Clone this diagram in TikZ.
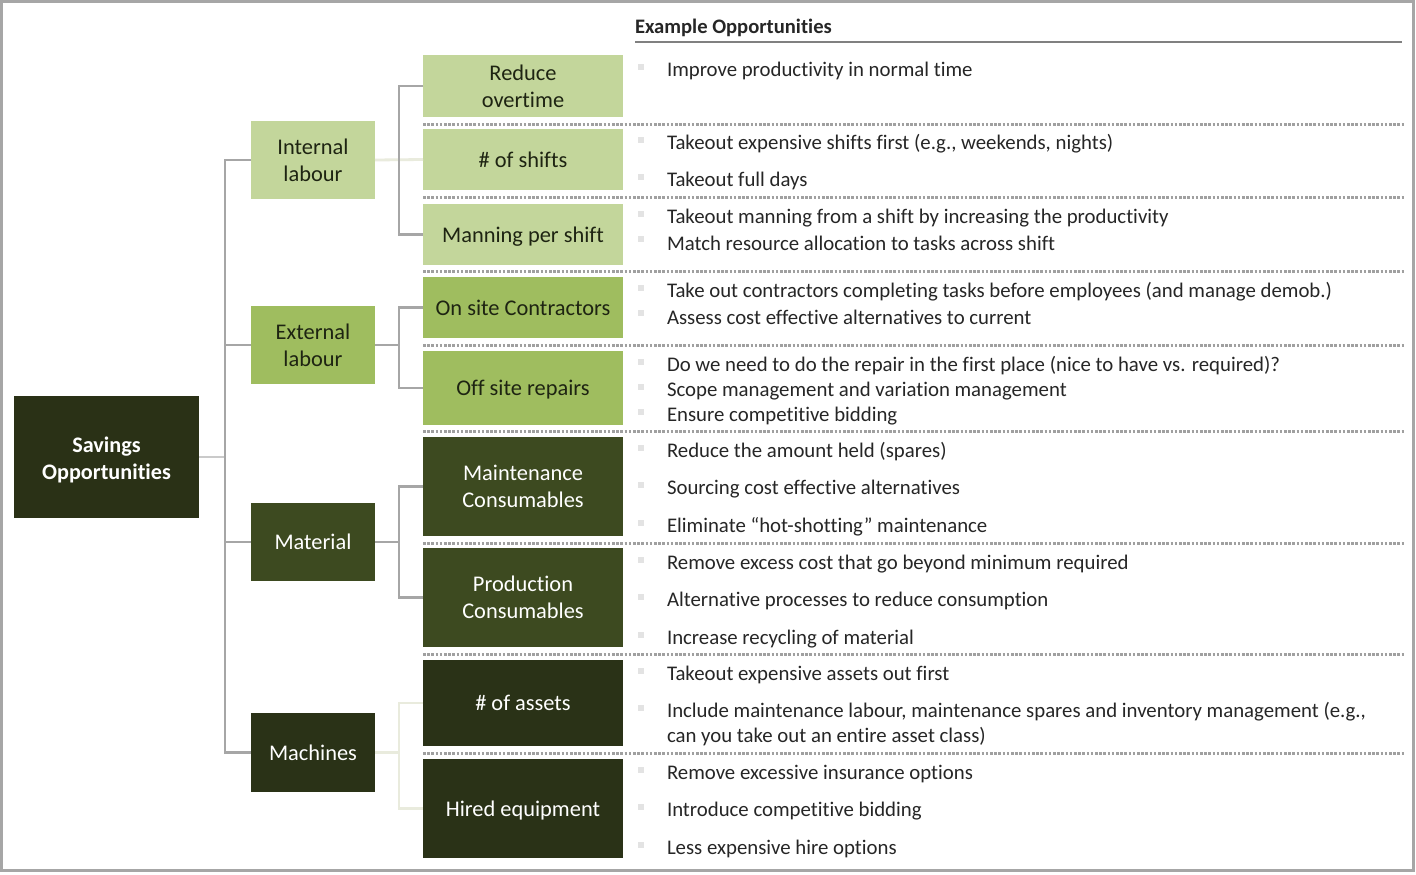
\documentclass[tikz,border=0pt]{standalone}
\usepackage{fontspec}
\setmainfont{Carlito}[Ligatures=NoCommon]
\begin{document}
\begin{tikzpicture}[x=1pt,y=-1pt,
  every node/.style={inner sep=0pt,outer sep=0pt},
  conn/.style={draw=cgray,line width=2.8pt},
  connlight/.style={draw=clight,line width=2.8pt},
  sep/.style={draw=sepgray,line width=3pt,dash pattern=on 2.6pt off 1.6pt},
  box/.style={minimum width=#1,align=center,font=\fontsize{22.4}{27}\selectfont},
  one/.style={text height=15pt,text depth=0pt},
  bl/.style={fill=lgreen,text=ltext},
  bm/.style={fill=mgreen,text=ltext},
  bd/.style={fill=dgreen,text=white},
  bk/.style={fill=kgreen,text=white},
  txt/.style={anchor=west,text=bodytext,font=\fontsize{20.8}{25}\selectfont},
  bul/.style={fill=bulgray,minimum size=6pt}
]
\definecolor{cgray}{HTML}{A6A6A6}
\definecolor{clight}{HTML}{E9EBDD}
\definecolor{sepgray}{HTML}{A0A0A0}
\definecolor{lgreen}{HTML}{C3D69B}
\definecolor{mgreen}{HTML}{9FBD5F}
\definecolor{dgreen}{HTML}{3D4A20}
\definecolor{kgreen}{HTML}{2A3217}
\definecolor{rgreen}{HTML}{2A3116}
\definecolor{ltext}{HTML}{1E2412}
\definecolor{bodytext}{HTML}{262626}
\definecolor{bulgray}{HTML}{E3E3E3}
\definecolor{ulgray}{HTML}{808080}

\useasboundingbox (0,0) rectangle (1416,875);
\fill[white] (0,0) rectangle (1416,875);
\draw[cgray,line width=3pt] (1.5,1.5) rectangle (1413.5,870.5);

% header
\node[anchor=west,text=black!85,font=\bfseries\fontsize{20.6}{24}\selectfont] (hdr) at (635,28) {Example Opportunities};
\coordinate (ulA) at (635,42);
\coordinate (ulB) at (1402,42);
\draw[ulgray,line width=2pt] (ulA) -- (ulB);

% separators
\foreach \yy [count=\i] in {124,197,271,345,431,543,654,753}{
  \coordinate (sa\i) at (423,\yy);
  \coordinate (sb\i) at (1404,\yy);
  \draw[sep] (sa\i) -- (sb\i);
}

% root
\node[fill=rgreen,text=white,minimum width=185pt,minimum height=122pt,font=\bfseries\fontsize{22.2}{27}\selectfont] (root) at (106.5,457) {\raisebox{-3.5pt}[\height][\depth]{\begin{tabular}{@{}c@{}}Savings\\Opportunities\end{tabular}}};

% level 2
\node[box=124pt,minimum height=78pt,bl] (int) at (313,160) {Internal\\labour};
\node[box=124pt,minimum height=78pt,bm] (ext) at (313,345) {External\\labour};
\node[box=124pt,minimum height=78pt,bd,one] (mat) at (313,542) {Material};
\node[box=124pt,minimum height=79pt,bk,one] (mac) at (313,752.5) {Machines};

% level 3
\node[box=200pt,minimum height=62pt,bl] (ro) at (523,86) {Reduce\\overtime};
\node[box=200pt,minimum height=61pt,bl,one] (sh) at (523,159.5) {\# of shifts};
\node[box=200pt,minimum height=61pt,bl,one] (mp) at (523,234.5) {Manning per shift};
\node[box=200pt,minimum height=61pt,bm,one] (oc) at (523,307.5) {On site Contractors};
\node[box=200pt,minimum height=74pt,bm,one] (os) at (523,388) {Off site repairs};
\node[box=200pt,minimum height=99pt,bd] (mc) at (523,486.5) {Maintenance\\Consumables};
\node[box=200pt,minimum height=99pt,bd] (pc) at (523,597.5) {Production\\Consumables};
\node[box=200pt,minimum height=86pt,bk,one] (na) at (523,703) {\# of assets};
\node[box=200pt,minimum height=99pt,bk,one] (he) at (523,808.5) {Hired equipment};

% connectors level 1
\coordinate (j1) at (225,457);
\draw[draw=cgray!60,line width=2.8pt] (root.east) -- (j1);
\draw[conn] (int.west) -| (225,160) |- (mac.west);
\draw[conn] (225,345) -- (ext.west);
\draw[conn] (225,542) -- (mat.west);

% Internal labour
\coordinate (ji) at (399,160);
\draw[connlight] (int.east) -- (sh.west);
\draw[conn] (ro.west) -| (ji) |- (mp.west);
% External labour
\coordinate (je) at (399,345);
\draw[conn] (ext.east) -- (je);
\draw[conn] (oc.west) -| (je) |- (os.west);
% Material
\coordinate (jm) at (399,542);
\draw[conn] (mat.east) -- (jm);
\draw[conn] (mc.west) -| (jm) |- (pc.west);
% Machines
\coordinate (jk) at (399,752.5);
\draw[connlight] (mac.east) -- (jk);
\draw[connlight] (na.west) -| (jk) |- (he.west);

% bullet texts
\foreach \yy/\t [count=\i] in {
 69/{Improve productivity in normal time},
 142/{Takeout expensive shifts first (e.g., weekends, nights)},
 179/{Takeout full days},
 216/{Takeout manning from a shift by increasing the productivity},
 241/{Match resource allocation to tasks across shift},
 290/{Take out contractors completing tasks before employees (and manage demob.)},
 315/{Assess cost effective alternatives to current},
 364/{Do we need to do the repair in the first place (nice to have vs. required)?},
 389/{Scope management and variation management},
 414/{Ensure competitive bidding},
 450/{Reduce the amount held (spares)},
 487/{Sourcing cost effective alternatives},
 525/{Eliminate “hot-shotting” maintenance},
 562/{Remove excess cost that go beyond minimum required},
 599/{Alternative processes to reduce consumption},
 637/{Increase recycling of material},
 673/{Takeout expensive assets out first},
 710/{Include maintenance labour, maintenance spares and inventory management (e.g.,},
 772/{Remove excessive insurance options},
 809/{Introduce competitive bidding},
 847/{Less expensive hire options}}{
  \node[bul] (b\i) at (641,\yy-2) {};
  \node[txt] (t\i) at (667,\yy+2) {\t};
}
\node[txt] (t22) at (667,737) {can you take out an entire asset class)};
\end{tikzpicture}
\end{document}
